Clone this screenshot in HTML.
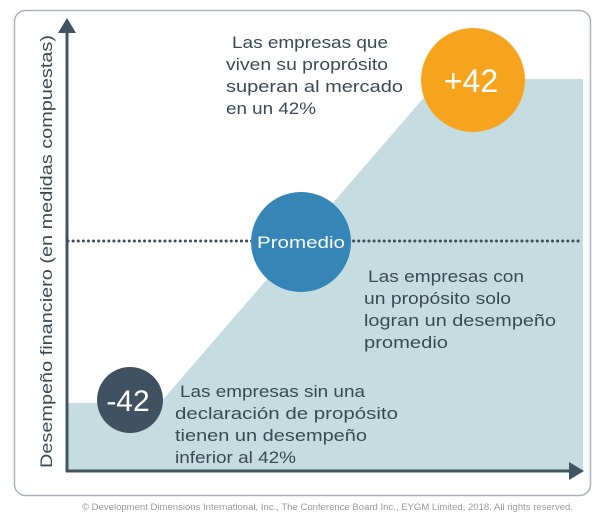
<!DOCTYPE html>
<html><head><meta charset="utf-8"><style>
html,body{margin:0;padding:0;background:#fff;}
svg text{font-family:"Liberation Sans",sans-serif;}
</style></head><body>
<svg width="600" height="521" viewBox="0 0 600 521" xmlns="http://www.w3.org/2000/svg">
<rect x="14.5" y="10.5" width="576" height="485" rx="11" fill="#fff" stroke="#a9b2ba" stroke-width="1.5"/>
<polygon points="68,403 160,403 440,79 583,79 583,470 68,470" fill="#c5dde1"/>
<line x1="68" y1="241" x2="583" y2="241" stroke="#3d4f5c" stroke-width="3" stroke-dasharray="0.1 5" stroke-linecap="round"/>
<line x1="67" y1="30" x2="67" y2="472" stroke="#405461" stroke-width="3"/>
<polygon points="58,33 67,18 76,33" fill="#405461"/>
<line x1="66" y1="471" x2="572" y2="471" stroke="#405461" stroke-width="3"/>
<polygon points="569,462 584,471 569,480" fill="#405461"/>
<text transform="translate(52,468) rotate(-90)" font-size="17" fill="#3a4a55" textLength="433" lengthAdjust="spacingAndGlyphs">Desempeño financiero (en medidas compuestas)</text>
<circle cx="130" cy="400" r="33" fill="#405261"/>
<text x="128" y="411" text-anchor="middle" font-size="30" fill="#fff">-42</text>
<circle cx="301" cy="242" r="50" fill="#3585b7"/>
<text x="301" y="248" text-anchor="middle" font-size="16.5" fill="#fff" textLength="88" lengthAdjust="spacingAndGlyphs">Promedio</text>
<circle cx="473" cy="80" r="52" fill="#f6a41e"/>
<text x="471" y="92" text-anchor="middle" font-size="32" fill="#fff">+42</text>
<g font-size="17" fill="#3a4a55" lengthAdjust="spacingAndGlyphs">
<text x="232" y="48" textLength="156" lengthAdjust="spacingAndGlyphs">Las empresas que</text>
<text x="226" y="70" textLength="162" lengthAdjust="spacingAndGlyphs">viven su proprósito</text>
<text x="226" y="92" textLength="177" lengthAdjust="spacingAndGlyphs">superan al mercado</text>
<text x="226" y="114" textLength="90" lengthAdjust="spacingAndGlyphs">en un 42%</text>
<text x="368" y="282" textLength="156" lengthAdjust="spacingAndGlyphs">Las empresas con</text>
<text x="364" y="304" textLength="147" lengthAdjust="spacingAndGlyphs">un propósito solo</text>
<text x="364" y="326" textLength="192" lengthAdjust="spacingAndGlyphs">logran un desempeño</text>
<text x="364" y="348" textLength="84" lengthAdjust="spacingAndGlyphs">promedio</text>
<text x="180" y="397" textLength="185" lengthAdjust="spacingAndGlyphs">Las empresas sin una</text>
<text x="175" y="419" textLength="223" lengthAdjust="spacingAndGlyphs">declaración de propósito</text>
<text x="175" y="441" textLength="192" lengthAdjust="spacingAndGlyphs">tienen un desempeño</text>
<text x="175" y="463" textLength="121" lengthAdjust="spacingAndGlyphs">inferior al 42%</text>
</g>
<text x="82" y="510" font-size="9.5" fill="#9a9a9a" textLength="491" lengthAdjust="spacingAndGlyphs">© Development Dimensions International, Inc., The Conference Board Inc., EYGM Limited, 2018. All rights reserved.</text>
</svg>
</body></html>
